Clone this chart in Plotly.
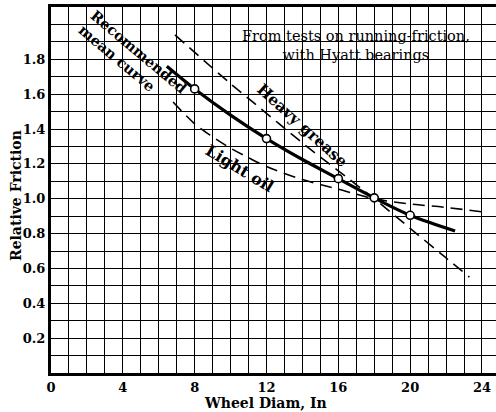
import plotly.graph_objects as go

# Data
mean_x = [6.45, 8, 10, 12, 14, 16, 18, 20, 22.5]
mean_y = [1.76, 1.63, 1.48, 1.345, 1.225, 1.115, 1.005, 0.905, 0.815]
test_x = [8, 12, 16, 18, 20]
test_y = [1.63, 1.345, 1.115, 1.005, 0.905]
grease_x = [6.9, 10, 12, 14, 16, 18, 20, 22, 23.3]
grease_y = [1.94, 1.66, 1.49, 1.32, 1.16, 1.00, 0.83, 0.66, 0.55]
oil_x = [6.8, 8, 9, 10, 11, 12, 14, 16, 18, 20, 22, 24]
oil_y = [1.555, 1.43, 1.355, 1.29, 1.235, 1.185, 1.11, 1.055, 1.0, 0.97, 0.95, 0.925]
x_ticks = [0, 4, 8, 12, 16, 20, 24]
y_ticks = [0.2, 0.4, 0.6, 0.8, 1.0, 1.2, 1.4, 1.6, 1.8]
y_tick_text = ["0.2", "0.4", "0.6", "0.8", "1.0", "1.2", "1.4", "1.6", "1.8"]

SERIF = "DejaVu Serif"
L, T, PW, PH = 51, 7, 445, 366
XMAX, YMAX = 24.78, 2.1


def px_to_data(px, py):
    return (px - L) / PW * XMAX, (T + PH - py) / PH * YMAX


def px_to_paper(px, py):
    return (px - L) / PW, (T + PH - py) / PH


fig = go.Figure()
fig.add_trace(go.Scatter(x=grease_x, y=grease_y, mode="lines", line_shape="spline",
                         line=dict(color="black", width=1.6, dash="12px,7px")))
fig.add_trace(go.Scatter(x=oil_x, y=oil_y, mode="lines", line_shape="spline",
                         line=dict(color="black", width=1.6, dash="12px,7px")))
fig.add_trace(go.Scatter(x=mean_x, y=mean_y, mode="lines", line_shape="spline",
                         line=dict(color="black", width=3.2)))
fig.add_trace(go.Scatter(x=test_x, y=test_y, mode="markers",
                         marker=dict(symbol="circle", size=8, color="white",
                                     line=dict(color="black", width=1.6))))

ax, ay = px_to_data(356, 45)
fig.add_annotation(x=ax, y=ay, xref="x", yref="y",
                   text="From tests on running-friction,<br>with Hyatt bearings",
                   showarrow=False, font=dict(family=SERIF, size=14.5, color="black"),
                   align="center", xanchor="center", yanchor="middle")
ax, ay = px_to_data(133, 59)
fig.add_annotation(x=ax, y=ay, xref="x", yref="y",
                   text="<b>Recommended<br>mean curve</b>", textangle=40,
                   showarrow=False, font=dict(family=SERIF, size=14.5, color="black"),
                   align="left", xanchor="center", yanchor="middle")
ax, ay = px_to_data(303, 125)
fig.add_annotation(x=ax, y=ay, xref="x", yref="y",
                   text="<b>Heavy grease</b>", textangle=42,
                   showarrow=False, font=dict(family=SERIF, size=15.5, color="black"),
                   xanchor="center", yanchor="middle")
ax, ay = px_to_data(240, 168)
fig.add_annotation(x=ax, y=ay, xref="x", yref="y",
                   text="<b>Light oil</b>", textangle=31,
                   showarrow=False, font=dict(family=SERIF, size=16, color="black"),
                   xanchor="center", yanchor="middle")

# Axis titles
px_, py_ = px_to_paper(265, 403)
fig.add_annotation(x=px_, y=py_, xref="paper", yref="paper", text="<b>Wheel Diam, In</b>",
                   showarrow=False, font=dict(family=SERIF, size=14, color="black"),
                   xanchor="center", yanchor="middle")
px_, py_ = px_to_paper(16, 196)
fig.add_annotation(x=px_, y=py_, xref="paper", yref="paper", text="<b>Relative Friction</b>",
                   textangle=-90, showarrow=False,
                   font=dict(family=SERIF, size=14, color="black"),
                   xanchor="center", yanchor="middle")

fig.update_layout(
    width=496, height=412,
    margin=dict(l=L, r=496 - L - PW, t=T, b=412 - T - PH, autoexpand=False),
    paper_bgcolor="white", plot_bgcolor="white",
    showlegend=False,
    font=dict(family=SERIF, color="black"),
    xaxis=dict(range=[0, XMAX], tickvals=x_ticks, ticktext=[str(v) for v in x_ticks],
               showgrid=True, gridcolor="black", gridwidth=1.4, automargin=False,
               minor=dict(dtick=1, showgrid=True, gridcolor="black", gridwidth=1.4),
               zeroline=False, showline=True, linecolor="black", linewidth=3, mirror=True,
               ticks="", tickfont=dict(family=SERIF, size=13, weight="bold")),
    yaxis=dict(range=[0, YMAX], tickvals=y_ticks, ticktext=y_tick_text,
               showgrid=True, gridcolor="black", gridwidth=1.4, automargin=False,
               minor=dict(dtick=0.1, showgrid=True, gridcolor="black", gridwidth=1.4),
               zeroline=False, showline=True, linecolor="black", linewidth=3,
               ticks="", tickfont=dict(family=SERIF, size=13, weight="bold")),
)
fig.write_html("out.html", config={"displayModeBar": False},
               post_script="document.body.style.margin='0';")
